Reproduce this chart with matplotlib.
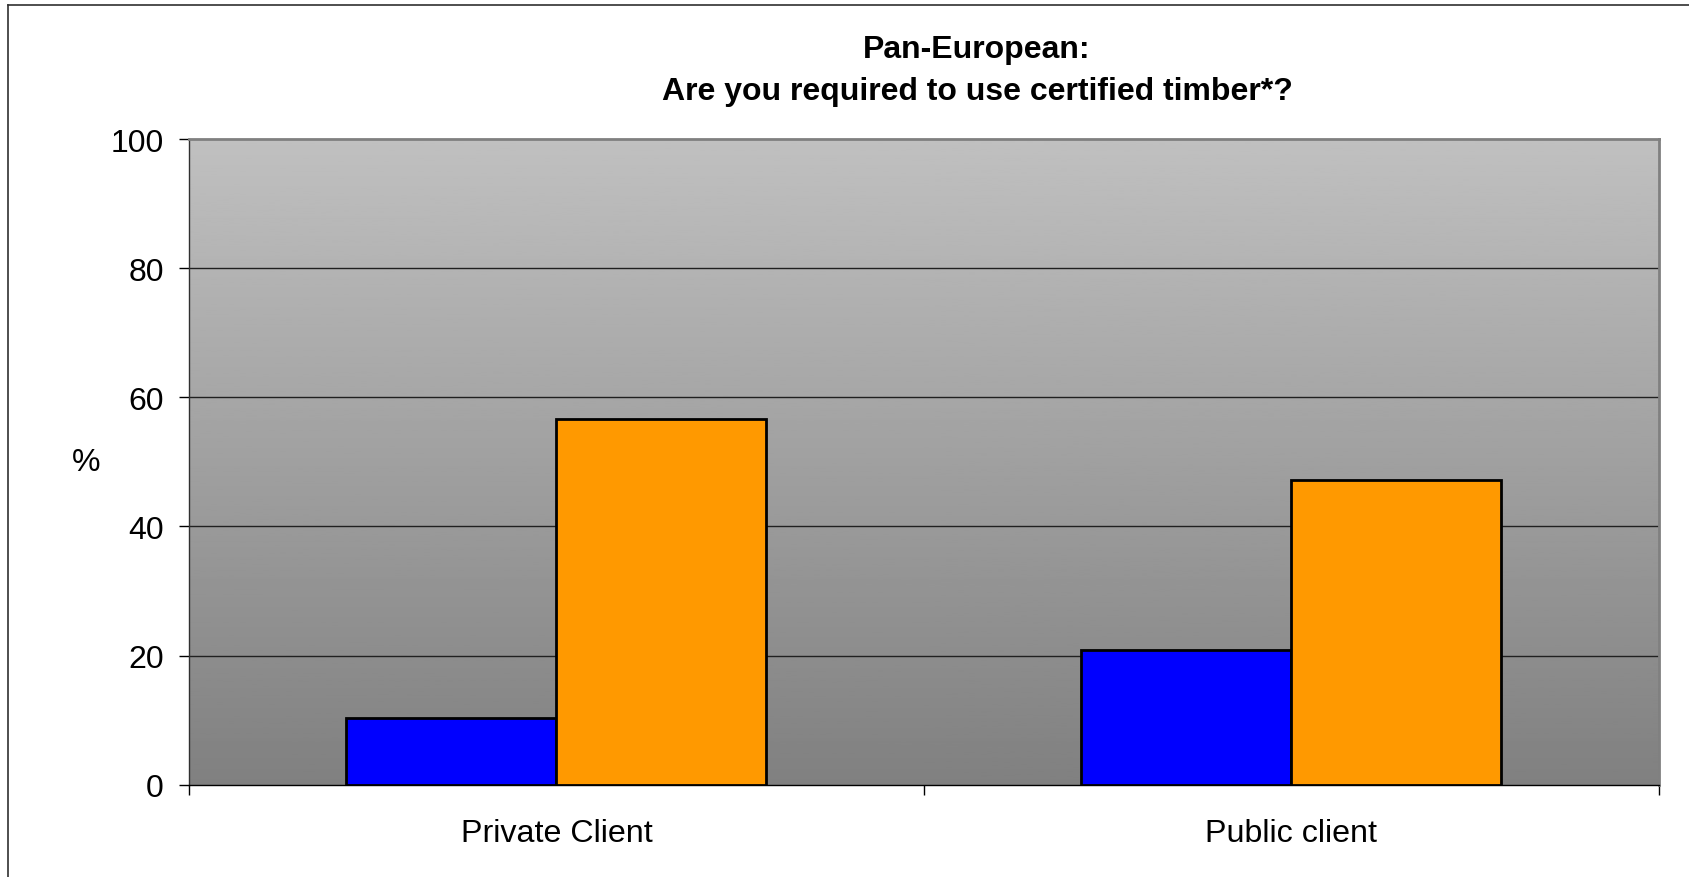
import numpy as np
import matplotlib
matplotlib.use("Agg")
import matplotlib.pyplot as plt
from matplotlib.lines import Line2D

plt.rcParams['font.family'] = ['Liberation Sans', 'DejaVu Sans']

# values
categories = ["Private Client", "Public client"]
blueVals = [10.4, 20.9]
orangeVals = [56.6, 47.2]
yTicks = [0, 20, 40, 60, 80, 100]
titleText = "Pan-European:\nAre you required to use certified timber*?"

fig = plt.figure(figsize=(16.89, 8.78), dpi=100)
ax = fig.add_axes([0.1119, 0.1051, 0.8703, 0.7354])

# grey gradient background of the plot area (light at top, darker at bottom)
grad = np.linspace(0xC0, 0x80, 256).reshape(-1, 1) / 255.0
ax.imshow(grad, cmap='gray', vmin=0, vmax=1, aspect='auto',
          extent=[0, 2, 0, 100], zorder=0)

barWidth = 1 / 3.5  # excel gap width 150%
x = np.arange(len(categories)) + 0.5
ax.bar(x - barWidth / 2, blueVals, barWidth, color='#0000FF', edgecolor='black',
       linewidth=2, zorder=3)
ax.bar(x + barWidth / 2, orangeVals, barWidth, color='#FF9900', edgecolor='black',
       linewidth=2, zorder=3)

ax.set_xlim(0, 2)
ax.set_ylim(0, 100)

ax.set_yticks(yTicks)
ax.set_yticklabels([str(t) for t in yTicks])
ax.tick_params(axis='y', direction='out', length=7.2, width=1, color='black',
               pad=11, labelsize=23)
for t in yTicks[1:-1]:
    ax.axhline(t, color='#202020', linewidth=1, zorder=2)

# category labels centred, tick marks on the category boundaries
ax.set_xticks(x)
ax.set_xticklabels(categories)
ax.set_xticks([0, 1, 2], minor=True)
ax.tick_params(axis='x', which='major', length=0, pad=24, labelsize=23.2)
ax.tick_params(axis='x', which='minor', direction='out', length=7.2, width=1, color='black')

ax.spines['left'].set_color('#303030')
ax.spines['left'].set_linewidth(1)
ax.spines['bottom'].set_color('black')
ax.spines['bottom'].set_linewidth(1)
for s in ['top', 'right']:
    ax.spines[s].set_color('#808080')
    ax.spines[s].set_linewidth(2)

fig.text(0.051, 0.4727, "%", fontsize=23, ha='center', va='center')
fig.text(0.5785, 0.919, titleText, fontsize=23, fontweight='bold',
         ha='center', va='center', linespacing=1.53)

# outer chart frame (cut off at right and bottom in the original)
fig.add_artist(Line2D([8 / 1689, 8 / 1689], [1 - 6 / 878, 0], transform=fig.transFigure,
                      color='#303030', linewidth=1.2))
fig.add_artist(Line2D([8 / 1689, 1], [1 - 6 / 878, 1 - 6 / 878], transform=fig.transFigure,
                      color='#303030', linewidth=1.2))

fig.savefig("out.png", dpi=100)
